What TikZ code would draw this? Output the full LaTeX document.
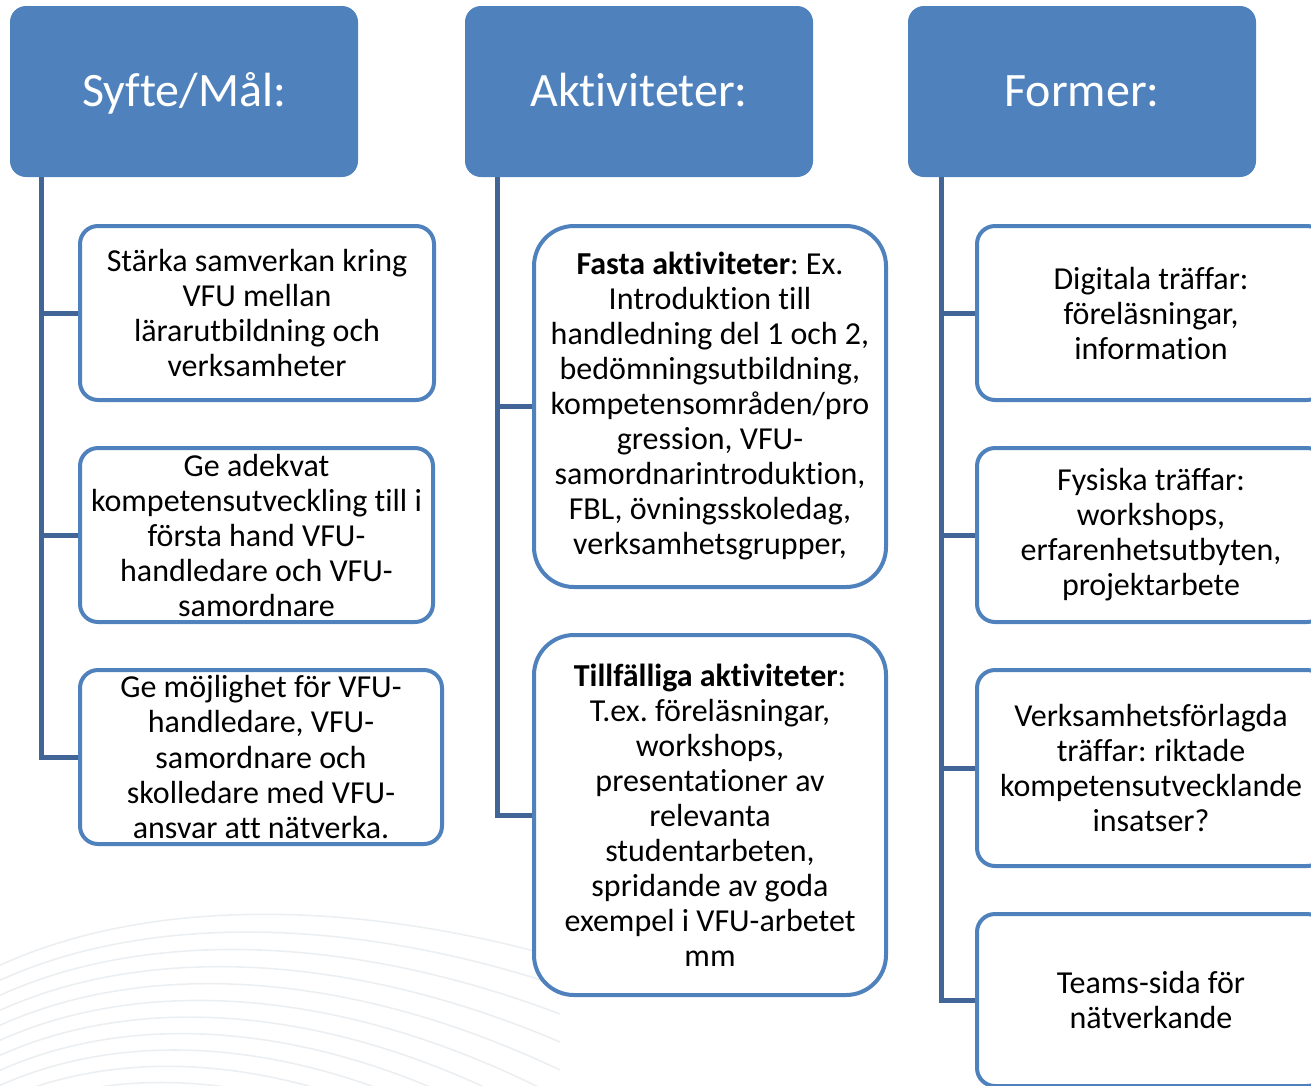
\documentclass[tikz,border=0pt]{standalone}
\usepackage{fontspec}
\setmainfont[Ligatures=NoCommon]{Carlito}
\usetikzlibrary{positioning}
\definecolor{hdrblue}{RGB}{79,129,189}
\definecolor{linkblue}{RGB}{64,101,150}
\definecolor{swirlgray}{RGB}{236,239,242}
\frenchspacing

\begin{document}
\begin{tikzpicture}[header/.style={rectangle, rounded corners=16pt, fill=hdrblue, text=white, minimum width=348pt, minimum height=171pt, inner sep=0pt, text height=34pt, text depth=5pt, font=\fontsize{48}{56}\selectfont}, item/.style={rectangle, rounded corners=18pt, draw=hdrblue, line width=4pt, fill=white, align=center, inner sep=0pt, minimum width=354pt, minimum height=174pt, font=\fontsize{32}{35}\selectfont}, bigitem/.style={item, rounded corners=40pt, minimum width=352pt, minimum height=361pt}, link/.style={draw=linkblue, line width=5pt}, swirl/.style={draw=swirlgray, line width=1.6pt}]
	\useasboundingbox (0pt, 0pt) rectangle (1311pt, -1085pt);
	% faint background lines
	\foreach \k in {0,...,12}
		\draw[swirl] (-20pt, {-(975+15*\k)*1pt}) .. controls (120pt, {-(902+15*\k)*1pt}) and (330pt, {-(893+17*\k)*1pt}) .. (560pt, {-(958+28*\k)*1pt});
	\draw (184.0pt, -91.5pt)node[header](syfte){Syfte/Mål:};
	\draw (639.0pt, -91.5pt)node[header](akt){Aktiviteter:};
	\draw (1082.0pt, -91.5pt)node[header](former){Former:};
	\draw (257.0pt, -313.0pt)node[item](s1){Stärka samverkan kring\\VFU mellan\\lärarutbildning och\\verksamheter};
	\draw (256.5pt, -535.0pt)node[item, minimum width=353pt](s2){Ge adekvat\\kompetensutveckling till i\\första hand VFU-\\handledare och VFU-\\samordnare};
	\draw (261.0pt, -757.0pt)node[item, minimum width=362pt](s3){Ge möjlighet för VFU-\\handledare, VFU-\\samordnare och\\skolledare med VFU-\\ansvar att nätverka.};
	\draw (710.0pt, -406.5pt)node[bigitem](a1){\textbf{Fasta aktiviteter}: Ex.\\Introduktion till\\handledning del 1 och 2,\\bedömningsutbildning,\\kompetensområden/pro\\gression, VFU-\\samordnarintroduktion,\\FBL, övningsskoledag,\\verksamhetsgrupper,};
	\draw (710.0pt, -815.0pt)node[bigitem, minimum height=360pt](a2){\textbf{Tillfälliga aktiviteter}:\\T.ex. föreläsningar,\\workshops,\\presentationer av\\relevanta\\studentarbeten,\\spridande av goda\\exempel i VFU-arbetet\\mm};
	\draw (1151.0pt, -313.0pt)node[item, minimum width=348pt](f1){Digitala träffar:\\föreläsningar,\\information};
	\draw (1151.0pt, -535.0pt)node[item, minimum width=348pt](f2){Fysiska träffar:\\workshops,\\erfarenhetsutbyten,\\projektarbete};
	\draw (1151.0pt, -768.0pt)node[item, minimum width=348pt, minimum height=196pt](f3){Verksamhetsförlagda\\träffar: riktade\\kompetensutvecklande\\insatser?};
	\draw (1151.0pt, -1000.0pt)node[item, minimum width=348pt, minimum height=172pt](f4){Teams-sida för\\nätverkande};
	\foreach \b in {s1,s2,s3}
		\draw[link] ([xshift=32pt]syfte.south west) |- (\b.west);
	\foreach \b in {a1,a2}
		\draw[link] ([xshift=33pt]akt.south west) |- (\b.west);
	\foreach \b in {f1,f2,f3,f4}
		\draw[link] ([xshift=34pt]former.south west) |- (\b.west);
\end{tikzpicture}
\end{document}
